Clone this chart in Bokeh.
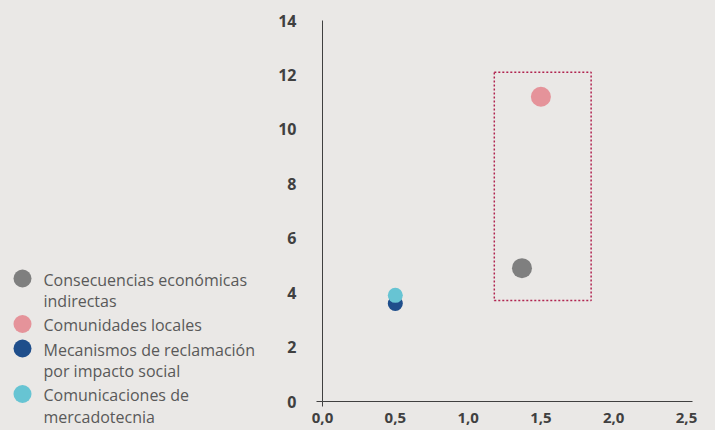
from bokeh.plotting import figure
from bokeh.layouts import row
from bokeh.models import Range1d, FixedTicker, ColumnDataSource
from bokeh.core.properties import value
from bokeh.embed import file_html
from bokeh.resources import INLINE

# ---- data ----
series = [
    "Consecuencias económicas indirectas",
    "Comunidades locales",
    "Mecanismos de reclamación por impacto social",
    "Comunicaciones de mercadotecnia",
]
legend_labels = [
    "Consecuencias económicas\nindirectas",
    "Comunidades locales",
    "Mecanismos de reclamación\npor impacto social",
    "Comunicaciones de\nmercadotecnia",
]
x_vals = [1.37, 1.50, 0.50, 0.50]
y_vals = [4.9, 11.2, 3.6, 3.9]
colors = ["#7F7F7F", "#E5939A", "#1F4E8B", "#67C4D3"]
x_ticks = [0.0, 0.5, 1.0, 1.5, 2.0, 2.5]
x_tick_labels = ["0,0", "0,5", "1,0", "1,5", "2,0", "2,5"]
y_ticks = [0, 2, 4, 6, 8, 10, 12, 14]
highlight_box = [1.18, 1.845, 3.71, 12.1]  # left, right, bottom, top

BG = "#EAE8E6"
FONT = "Open Sans"

# ---- legend panel (left) ----
LW, H = 258, 430
leg = figure(width=LW, height=H, output_backend="svg", toolbar_location=None,
             x_range=Range1d(0, LW), y_range=Range1d(H, 0),
             x_axis_location=None, y_axis_location=None, min_border=0)
try:
    leg.frame_align = False
except Exception:
    pass
leg.grid.visible = False
leg.outline_line_color = None
leg.background_fill_color = BG
leg.border_fill_color = BG

line_h = 21
gap = 3.5
top0 = 268
tops = []
t = top0
for lab in legend_labels:
    tops.append(t)
    t += line_h * (lab.count("\n") + 1) + gap
leg_src = ColumnDataSource(dict(
    mx=[22] * len(series), my=[tt + 10 for tt in tops],
    tx=[43] * len(series), ty=tops, label=legend_labels, color=colors))
leg.scatter("mx", "my", source=leg_src, size=18, color="color", line_color=None)
leg.text("tx", "ty", text="label", source=leg_src, text_font=value(FONT),
         text_font_size="16px", text_color="#595959", text_baseline="top",
         text_align="left", text_line_height=0.98)

# ---- main chart ----
p = figure(width=715 - LW, height=H, output_backend="svg", toolbar_location=None,
           x_range=Range1d(0, 2.5 * 370 / 364), y_range=Range1d(0, 14),
           min_border_left=64, min_border_right=23, min_border_top=20,
           min_border_bottom=29)
p.grid.visible = False
p.outline_line_color = None
p.background_fill_color = BG
p.border_fill_color = BG

p.xaxis.ticker = FixedTicker(ticks=x_ticks, minor_ticks=[0.0])
p.xaxis.major_label_overrides = {k: v for k, v in zip(x_ticks, x_tick_labels)}
p.yaxis.ticker = FixedTicker(ticks=y_ticks, minor_ticks=[0])
for ax in (p.xaxis, p.yaxis):
    ax.axis_line_color = "#404040"
    ax.axis_line_width = 1
    ax.major_tick_line_color = None
    ax.major_tick_out = 0
    ax.major_tick_in = 0
    ax.minor_tick_line_color = "#404040"
    ax.minor_tick_in = 0
    ax.major_label_text_font = FONT
    ax.major_label_text_font_style = "bold"
    ax.major_label_text_color = "#404040"
p.xaxis.major_label_text_font_size = "15px"
p.yaxis.major_label_text_font_size = "16px"
p.xaxis.minor_tick_out = 5
p.yaxis.minor_tick_out = 6
p.xaxis.major_label_standoff = 6
p.yaxis.major_label_standoff = 20

p.quad(left=[highlight_box[0]], right=[highlight_box[1]],
       bottom=[highlight_box[2]], top=[highlight_box[3]],
       fill_color=None, line_color="#B0234F", line_width=1.5, line_dash="2 2")

sizes = [20, 20, 15, 15]
for i in range(len(series)):
    p.scatter([x_vals[i]], [y_vals[i]], size=sizes[i], color=colors[i],
              line_color=None)

layout = row(leg, p, styles={"background": BG})
html = file_html(layout, INLINE)
html = html.replace("</head>", "<style>html, body { background: %s; }</style></head>" % BG, 1)
open("out.html", "w").write(html)
